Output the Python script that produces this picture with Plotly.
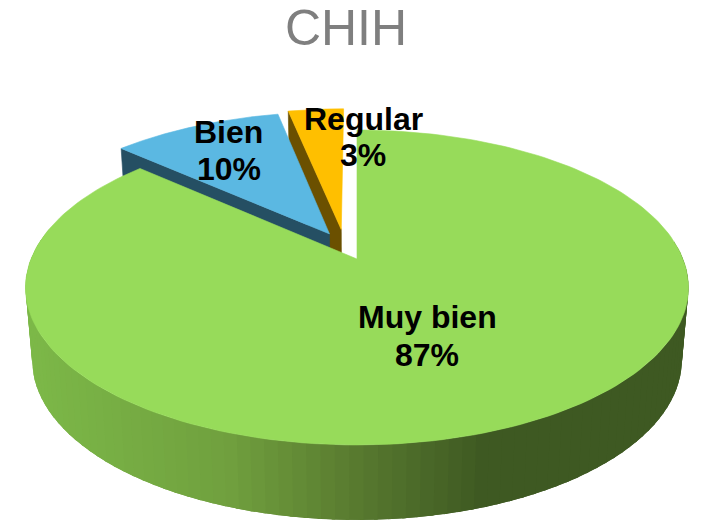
import numpy as np
import plotly.graph_objects as go

# datos
categorias = ["Muy bien", "Bien", "Regular"]
valores = [86.6, 10.1, 3.3]
titulo = "CHIH"

# estilos
colores_cara = ["#97db5a", "#5bb8e2", "#ffbf00"]
colores_corte = [None, "#254f63", "#6b5000"]
desplazamiento = [(0, 0), (-0.087, -0.17), (-0.05, -0.2)]  # explosion de cada rebanada
pos_etiquetas = [(427, 317, 355), (228.5, 132, 169), (363, 119, 155)]

# proyeccion del disco
CX, CY = 357, 259
R, B, K = 326, 152.3, 0.181
GROSOR = 72


def proyectar(u, v, z=0):
    u, v = np.asarray(u, float), np.asarray(v, float)
    w = 1 - K * v
    x = u * R / w
    y = B * v / w
    esc = 1 - 0.02 * z
    return CX + x * esc, CY + y + z * (GROSOR + 3 * np.clip(v, 0, 1))


def borde(a0, a1, du, dv, n=200):
    t = np.radians(np.linspace(a0, a1, n))
    return np.sin(t) + du, -np.cos(t) + dv


def poligono(x, y, color, ancho=0.6):
    return go.Scatter(
        x=np.append(x, x[0]), y=np.append(y, y[0]),
        mode="lines", fill="toself", fillcolor=color,
        line=dict(color=color, width=ancho),
        hoverinfo="skip", showlegend=False,
    )


def color_lateral(x):
    r = np.interp(x, [30, 230, 350, 485], [124, 112, 90, 62])
    g = np.interp(x, [30, 230, 350, 485], [184, 160, 124, 89])
    b = np.interp(x, [30, 230, 350, 485], [72, 62, 48, 34])
    return f"rgb({r:.0f},{g:.0f},{b:.0f})"


angulos = np.cumsum([0] + valores) / sum(valores) * 360
fig = go.Figure()

# se pinta de atras hacia delante: Regular, Bien, Muy bien
for i in [2, 1, 0]:
    a0, a1 = angulos[i], angulos[i + 1]
    du, dv = desplazamiento[i]
    u, v = borde(a0, a1, du, dv)

    if i == 0:
        # costado con degradado, por tiras que se solapan para que no se vean juntas
        tx, ty = proyectar(*borde(a0, a1, du, dv, 600))
        bx, by = proyectar(*borde(a0, a1, du, dv, 600), 1)
        for j in range(0, 590, 4):
            if ty[j] < CY - 20:
                continue
            k = j + 10
            xs = np.concatenate([tx[j:k], bx[j:k][::-1]])
            ys = np.concatenate([ty[j:k], by[j:k][::-1]])
            fig.add_trace(poligono(xs, ys, color_lateral(tx[j:j + 4].mean()), 0))
    else:
        # cara de corte visible (lado izquierdo de la rebanada)
        px, py = proyectar([du, u[0]], [dv, v[0]])
        qx, qy = proyectar([du, u[0]], [dv, v[0]], 1)
        fig.add_trace(poligono(
            np.array([px[0], px[1], qx[1], qx[0]]),
            np.array([py[0], py[1], qy[1], qy[0]]),
            colores_corte[i],
        ))

    x, y = proyectar(np.append(du, u), np.append(dv, v))
    fig.add_trace(poligono(x, y, colores_cara[i]))

# etiquetas
for cat, val, (ex, ey1, ey2) in zip(categorias, valores, pos_etiquetas):
    for texto, ey in ((cat, ey1), (f"{round(val)}%", ey2)):
        fig.add_annotation(
            x=ex, y=ey, text=f"<b>{texto}</b>", showarrow=False,
            xanchor="center", yanchor="middle",
            font=dict(family="Liberation Sans", size=32, color="#000000"),
        )

fig.update_layout(
    width=702, height=522,
    margin=dict(l=0, r=0, t=0, b=0),
    paper_bgcolor="white", plot_bgcolor="white",
    showlegend=False,
    title=dict(
        text=titulo, x=346 / 702, xanchor="center", y=1 - 27 / 522, yanchor="middle",
        font=dict(family="Liberation Sans", size=50, color="#7f7f7f"),
    ),
)
fig.update_xaxes(range=[0, 702], visible=False)
fig.update_yaxes(range=[522, 0], visible=False)

# sin margen en el body para que la figura empiece en 0,0
fig.write_html(
    "out.html",
    config=dict(displayModeBar=False),
    post_script="document.body.style.margin='0';",
)
